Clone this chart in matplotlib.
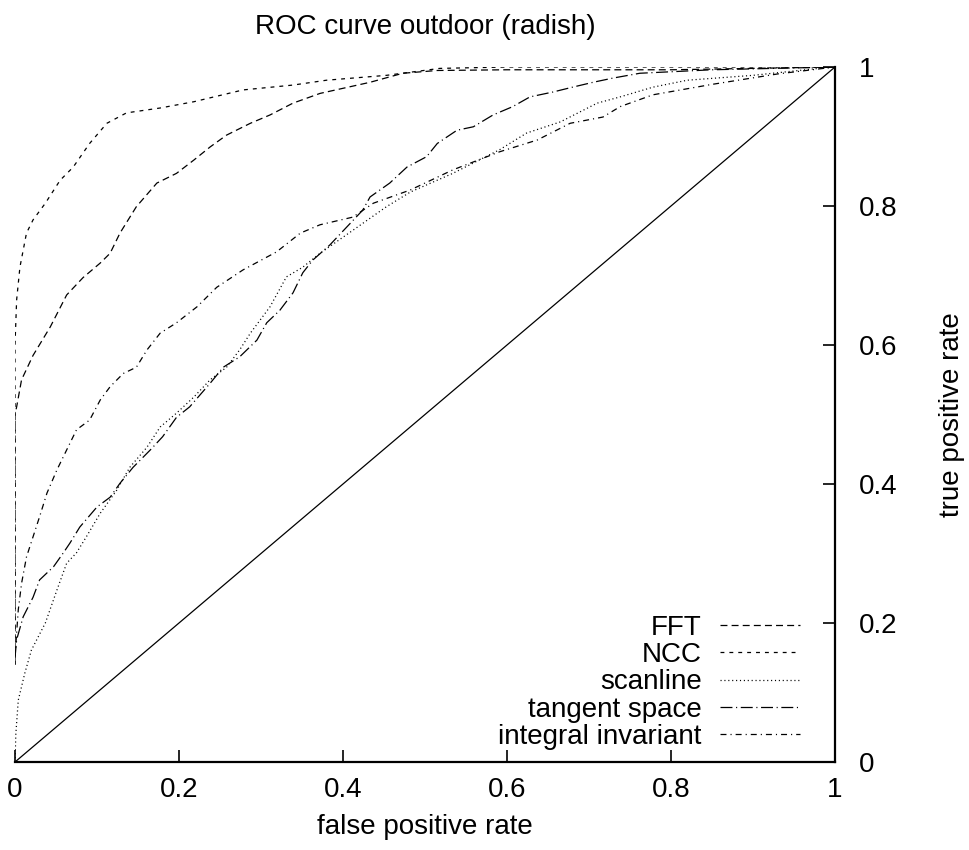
import matplotlib
matplotlib.use("Agg")
import matplotlib.pyplot as plt

plt.rcParams["font.family"] = ["Liberation Sans", "DejaVu Sans"]
plt.rcParams["lines.scale_dashes"] = False

# ROC curves: false positive rate / true positive rate pairs per method
fft_fpr = [0.0, 0.0, 0.002, 0.008, 0.022, 0.043, 0.063, 0.083, 0.104, 0.116, 0.128, 0.148,
           0.173, 0.197, 0.218, 0.238, 0.258, 0.287, 0.311, 0.339, 0.372, 0.433, 0.473,
           0.515, 0.60, 0.80, 1.0]
fft_tpr = [0.14, 0.50, 0.511, 0.550, 0.585, 0.626, 0.672, 0.697, 0.718, 0.732, 0.761, 0.799,
           0.833, 0.847, 0.866, 0.885, 0.902, 0.919, 0.931, 0.948, 0.962, 0.978, 0.991,
           0.995, 0.996, 0.996, 1.0]

ncc_fpr = [0.0, 0.0, 0.002, 0.006, 0.014, 0.022, 0.037, 0.055, 0.071, 0.091, 0.112, 0.136,
           0.177, 0.218, 0.278, 0.339, 0.380, 0.453, 0.518, 0.60, 1.0]
ncc_tpr = [0.14, 0.60, 0.665, 0.712, 0.761, 0.780, 0.804, 0.837, 0.856, 0.890, 0.919, 0.934,
           0.941, 0.950, 0.967, 0.974, 0.981, 0.988, 0.998, 1.0, 1.0]

scan_fpr = [0.0, 0.001, 0.004, 0.012, 0.020, 0.037, 0.051, 0.063, 0.075, 0.087, 0.104, 0.124,
            0.140, 0.161, 0.177, 0.197, 0.218, 0.238, 0.258, 0.274, 0.287, 0.311, 0.331,
            0.351, 0.372, 0.412, 0.453, 0.482, 0.534, 0.591, 0.624, 0.665, 0.710, 0.738,
            0.778, 0.820, 0.900, 0.980, 1.0]
scan_tpr = [0.0, 0.04, 0.089, 0.128, 0.161, 0.200, 0.247, 0.286, 0.301, 0.324, 0.358, 0.391,
            0.424, 0.453, 0.482, 0.502, 0.525, 0.550, 0.568, 0.593, 0.617, 0.655, 0.698,
            0.712, 0.732, 0.765, 0.799, 0.820, 0.847, 0.881, 0.905, 0.921, 0.948, 0.957,
            0.971, 0.981, 0.988, 0.998, 1.0]

tang_fpr = [0.0, 0.002, 0.010, 0.022, 0.030, 0.047, 0.059, 0.067, 0.079, 0.100, 0.116, 0.128,
            0.144, 0.165, 0.180, 0.197, 0.213, 0.238, 0.254, 0.274, 0.295, 0.307, 0.323,
            0.339, 0.351, 0.363, 0.384, 0.424, 0.433, 0.457, 0.478, 0.502, 0.515, 0.539,
            0.559, 0.583, 0.607, 0.628, 0.656, 0.680, 0.705, 0.729, 0.762, 0.85, 1.0]
tang_tpr = [0.15, 0.176, 0.209, 0.237, 0.262, 0.281, 0.301, 0.315, 0.338, 0.367, 0.381, 0.401,
            0.424, 0.449, 0.468, 0.496, 0.511, 0.545, 0.568, 0.583, 0.607, 0.632, 0.650,
            0.675, 0.704, 0.722, 0.744, 0.794, 0.813, 0.833, 0.856, 0.871, 0.890, 0.909,
            0.914, 0.931, 0.943, 0.957, 0.964, 0.971, 0.978, 0.984, 0.991, 0.996, 1.0]

integ_fpr = [0.0, 0.002, 0.004, 0.008, 0.014, 0.022, 0.030, 0.039, 0.051, 0.063, 0.075, 0.091,
             0.104, 0.116, 0.132, 0.148, 0.161, 0.177, 0.197, 0.222, 0.246, 0.278, 0.319,
             0.348, 0.372, 0.412, 0.437, 0.482, 0.534, 0.591, 0.637, 0.677, 0.717, 0.738,
             0.778, 0.85, 0.93, 1.0]
integ_tpr = [0.15, 0.186, 0.219, 0.257, 0.295, 0.324, 0.353, 0.387, 0.420, 0.449, 0.478, 0.492,
             0.521, 0.540, 0.559, 0.568, 0.593, 0.617, 0.632, 0.655, 0.683, 0.708, 0.734,
             0.761, 0.773, 0.784, 0.804, 0.823, 0.852, 0.878, 0.895, 0.919, 0.928, 0.943,
             0.960, 0.975, 0.990, 1.0]

diag = [0.0, 1.0]
ticks = [0, 0.2, 0.4, 0.6, 0.8, 1]
tick_labels = ["0", "0.2", "0.4", "0.6", "0.8", "1"]

FS = 20

fig = plt.figure(figsize=(9.69, 8.5), dpi=100)
ax = fig.add_axes([15 / 969, 1 - 762 / 850, 820 / 969, 695 / 850])

lw = 0.9
ax.plot(fft_fpr, fft_tpr, color="black", lw=lw, dashes=(5.0, 3.0), label="FFT")
ax.plot(ncc_fpr, ncc_tpr, color="black", lw=lw, dashes=(2.8, 3.6), label="NCC")
ax.plot(scan_fpr, scan_tpr, color="black", lw=lw, dashes=(0.8, 2.0), label="scanline")
ax.plot(tang_fpr, tang_tpr, color="black", lw=lw,
        dashes=(8.6, 2.6, 0.8, 2.6), label="tangent space")
ax.plot(integ_fpr, integ_tpr, color="black", lw=lw,
        dashes=(4.3, 2.9, 0.8, 2.9), label="integral invariant")
ax.plot(diag, diag, color="black", lw=0.9)

ax.set_xlim(0, 1)
ax.set_ylim(0, 1)
ax.set_xticks(ticks)
ax.set_xticklabels(tick_labels)
ax.set_yticks(ticks)
ax.set_yticklabels(tick_labels)

for side in ("top", "left"):
    ax.spines[side].set_visible(False)
for side in ("bottom", "right"):
    ax.spines[side].set_linewidth(1.6)

ax.yaxis.tick_right()
ax.yaxis.set_label_position("right")
ax.tick_params(axis="both", direction="in", length=9, width=1.2, labelsize=FS)
ax.tick_params(axis="x", pad=11)
ax.tick_params(axis="y", pad=17)

ax.set_title("ROC curve outdoor (radish)", fontsize=FS, y=(762 - 27) / 695,
             va="center", pad=0)
ax.set_xlabel("false positive rate", fontsize=FS)
ax.xaxis.set_label_coords(0.5, (762 - 827) / 695)
ax.xaxis.label.set_va("center")
ax.set_ylabel("true positive rate", fontsize=FS, rotation=90)
ax.yaxis.set_label_coords((952 - 15) / 820, 0.5)
ax.yaxis.label.set_va("center")
ax.yaxis.label.set_ha("center")

ax.legend(loc="lower right", bbox_to_anchor=(0.957, 0.017), frameon=False,
          markerfirst=False, fontsize=FS, handlelength=80 / 27.8, handletextpad=0.65,
          labelspacing=0.05, borderpad=0, borderaxespad=0)

fig.savefig("out.png", dpi=100)
